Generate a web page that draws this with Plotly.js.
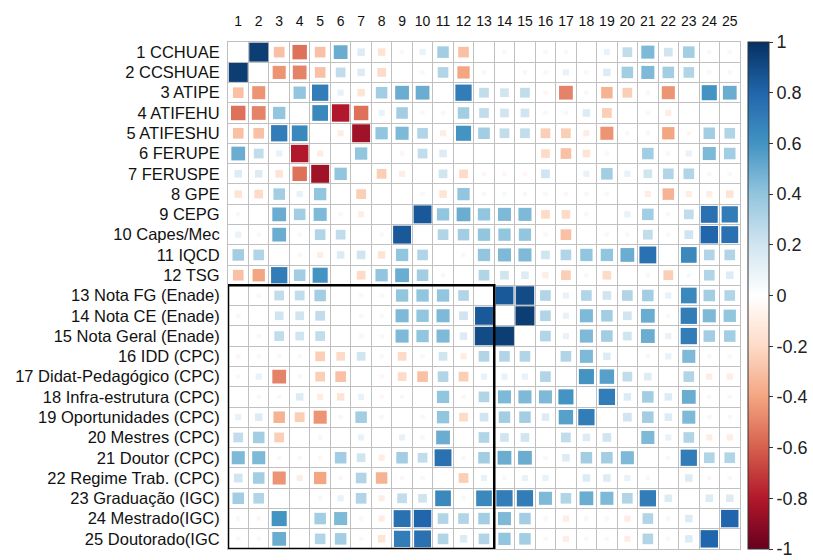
<!DOCTYPE html>
<html>
<head>
<meta charset="utf-8">
<script src="https://cdn.plot.ly/plotly-3.0.1.min.js"></script>
<style>html,body{margin:0;padding:0;background:#fff;}#chart{width:813px;height:560px;}</style>
</head>
<body>
<div id="chart"></div>
<script>
// Variable names (rows/columns of the correlation matrix)
const varLabels = [
  "1 CCHUAE", "2 CCSHUAE", "3 ATIPE", "4 ATIFEHU", "5 ATIFESHU", "6 FERUPE",
  "7 FERUSPE", "8 GPE", "9 CEPG", "10 Capes/Mec", "11 IQCD", "12 TSG",
  "13 Nota FG (Enade)", "14 Nota CE (Enade)", "15 Nota Geral (Enade)",
  "16 IDD (CPC)", "17 Didat-Pedagógico (CPC)", "18 Infra-estrutura (CPC)",
  "19 Oportunidades (CPC)", "20 Mestres (CPC)", "21 Doutor (CPC)",
  "22 Regime Trab. (CPC)", "23 Graduação (IGC)", "24 Mestrado(IGC)", "25 Doutorado(IGC"
];
const colLabels = ["1","2","3","4","5","6","7","8","9","10","11","12","13","14","15","16","17","18","19","20","21","22","23","24","25"];

// Upper triangle: correlations of variable i with variables i+1..25
const u1  = [0.95, -0.3, -0.55, -0.3, 0.5, 0.15, -0.15, 0.05, 0.1, 0.35, -0.3, 0, 0.05, 0, -0.05, 0.05, 0, 0.1, 0.25, 0.45, 0.2, 0.35, 0.05, 0.05];
const u2  = [-0.45, -0.5, -0.3, 0.25, 0.15, -0.2, 0, 0.05, 0.3, -0.4, 0.05, 0, 0.05, 0.05, 0.1, 0.05, 0.15, 0.35, 0.45, 0.35, 0.3, -0.05, 0.05];
const u3  = [0.4, 0.7, 0.1, -0.15, 0.35, 0.5, 0.5, 0, 0.7, 0.25, 0.2, 0.25, -0.05, -0.5, -0.05, -0.35, -0.25, 0.05, -0.45, 0, 0.6, 0.5];
const u4  = [0.65, -0.8, -0.55, 0.1, 0.35, -0.05, -0.05, 0.35, 0.25, 0.2, 0.2, 0.05, 0.05, 0.15, -0.25, 0, -0.05, -0.1, 0, 0, 0];
const u5  = [-0.1, -0.85, 0.4, 0.45, 0.3, -0.1, 0.6, 0.35, 0.25, 0.25, -0.25, -0.25, -0.1, -0.45, -0.05, -0.05, -0.4, -0.05, 0.35, 0.3];
const u6  = [0.4, 0, -0.05, 0.25, 0.15, 0, 0, 0, 0, -0.2, -0.3, -0.15, -0.05, 0, 0.35, -0.05, 0.1, 0.45, 0.35];
const u7  = [-0.25, -0.1, 0, 0.2, -0.2, -0.05, -0.05, -0.05, 0.2, 0, 0.1, 0.35, 0.1, 0.2, 0.3, 0.3, 0.05, 0.05];
const u8  = [0, 0.05, -0.15, 0.4, 0.05, 0.05, 0.05, 0.05, -0.05, -0.05, -0.05, 0, -0.1, -0.35, -0.1, -0.1, -0.15];
const u9  = [0.85, 0.4, 0.5, 0.4, 0.45, 0.45, -0.2, -0.2, 0.05, 0, 0.1, 0.35, -0.05, 0.25, 0.75, 0.7];
const u10 = [0.3, 0.35, 0.4, 0.4, 0.4, 0.05, -0.3, 0, 0.05, 0.05, 0.25, 0.05, 0.2, 0.8, 0.75];
const u11 = [0.05, 0.4, 0.45, 0.45, 0.2, 0.3, 0.4, 0.4, 0.5, 0.75, 0, 0.65, 0.3, 0.3];
const u12 = [0.3, 0.2, 0.15, -0.1, -0.25, -0.05, -0.2, 0, 0.05, -0.25, 0.05, 0.3, 0.15];
const u13 = [0.85, 0.9, 0.3, 0.1, 0.3, 0.2, 0.3, 0.35, 0.1, 0.65, 0.35, 0.3];
const u14 = [0.95, 0.3, 0.1, 0.45, 0.35, 0.2, 0.5, 0.05, 0.7, 0.45, 0.4];
const u15 = [0.3, 0.1, 0.45, 0.35, 0.2, 0.5, 0.1, 0.7, 0.35, 0.35];
const u16 = [0.3, 0.45, 0.15, 0, 0.05, 0.1, 0.45, -0.05, -0.05];
const u17 = [0.6, 0.55, 0.25, 0.15, 0, 0.3, -0.1, -0.1];
const u18 = [0.7, 0.15, 0.35, 0.15, 0.5, 0.05, 0.05];
const u19 = [0.2, 0.35, 0.15, 0.45, 0.05, 0.05];
const u20 = [0.45, 0.1, 0.3, -0.1, -0.1];
const u21 = [0.05, 0.7, 0.3, 0.3];
const u22 = [0.15, -0.05, 0.05];
const u23 = [0.15, 0.15];
const u24 = [0.8];

// Highlighted block (corrRect): variables 13-25 vs 1-13
const rectRowsRange = [13, 25];
const rectColsRange = [1, 13];

const colorbarTicks = [-1, -0.8, -0.6, -0.4, -0.2, 0, 0.2, 0.4, 0.6, 0.8, 1];
const colorbarTickText = ["-1", "-0.8", "-0.6", "-0.4", "-0.2", "0", "0.2", "0.4", "0.6", "0.8", "1"];

// ---- build symmetric matrix ----
const upper = [u1,u2,u3,u4,u5,u6,u7,u8,u9,u10,u11,u12,u13,u14,u15,u16,u17,u18,u19,u20,u21,u22,u23,u24];
const n = varLabels.length;
const M = [];
for (let i = 0; i < n; i++) { M.push(new Array(n).fill(0)); M[i][i] = 1; }
upper.forEach((row, i) => row.forEach((v, k) => { const j = i + 1 + k; M[i][j] = v; M[j][i] = v; }));

const W = 813, H = 560;
const margin = {l: 228, r: 73, t: 42, b: 11, autoexpand: false};
const cellPx = Math.min((W - margin.l - margin.r) / n, (H - margin.t - margin.b) / n);

const xs = [], ys = [], vals = [], sizes = [];
for (let i = 0; i < n; i++) {
  for (let j = 0; j < n; j++) {
    if (i === j) continue; // diagonal not shown
    const v = M[i][j];
    xs.push(j + 1); ys.push(i + 1); vals.push(v);
    sizes.push(cellPx * 0.96 * Math.sqrt(Math.abs(v)));
  }
}

const rdbu = [
  [0.0, "#67001F"], [0.1, "#B2182B"], [0.2, "#D6604D"], [0.3, "#F4A582"], [0.4, "#FDDBC7"],
  [0.5, "#FFFFFF"], [0.6, "#D1E5F0"], [0.7, "#92C5DE"], [0.8, "#4393C3"], [0.9, "#2166AC"], [1.0, "#053061"]
];

const idx = Array.from({length: n}, (_, k) => k + 1);
const half = Array.from({length: n + 1}, (_, k) => k + 0.5);
const gridCol = "#c0c0c0";

const trace = {
  type: "scatter", mode: "markers",
  x: xs, y: ys,
  hoverinfo: "skip",
  marker: {
    symbol: "square", size: sizes, color: vals, opacity: 1,
    colorscale: rdbu, cmin: -1, cmax: 1,
    line: {width: 0},
    showscale: true,
    colorbar: {
      thickness: 21, thicknessmode: "pixels",
      len: 1, lenmode: "fraction", y: 0.5, yanchor: "middle", ypad: 0,
      x: 1.0156, xanchor: "left", xpad: 0,
      outlinewidth: 1, outlinecolor: "#333",
      tickmode: "array", tickvals: colorbarTicks, ticktext: colorbarTickText,
      ticks: "outside", ticklen: 4, tickwidth: 1, tickcolor: "#333",
      ticklabeloverflow: "allow",
      tickfont: {family: "Liberation Sans, Arial, sans-serif", size: 18, color: "#222"}
    }
  }
};

const layout = {
  width: W, height: H, margin: margin,
  paper_bgcolor: "#fff", plot_bgcolor: "#fff",
  showlegend: false,
  font: {family: "Liberation Sans, Arial, sans-serif", color: "#111"},
  xaxis: {
    side: "top", range: [0.5, n + 0.5], fixedrange: true, automargin: false,
    tickmode: "array", tickvals: idx, ticktext: colLabels,
    tickfont: {size: 14, color: "#111"}, ticks: "", ticklabelstandoff: 9,
    showgrid: false, zeroline: false,
    showline: true, mirror: true, linecolor: gridCol, linewidth: 1,
    minor: {tickmode: "array", tickvals: half, showgrid: true, gridcolor: gridCol, gridwidth: 1, ticks: ""}
  },
  yaxis: {
    range: [n + 0.5, 0.5], fixedrange: true, automargin: false,
    tickmode: "array", tickvals: idx, ticktext: varLabels,
    tickfont: {size: 16.5, color: "#111"}, ticks: "", ticklabelstandoff: 4,
    showgrid: false, zeroline: false,
    showline: true, mirror: true, linecolor: gridCol, linewidth: 1,
    minor: {tickmode: "array", tickvals: half, showgrid: true, gridcolor: gridCol, gridwidth: 1, ticks: ""}
  },
  shapes: [{
    type: "rect", xref: "x", yref: "y",
    x0: rectColsRange[0] - 0.5, x1: rectColsRange[1] + 0.5,
    y0: rectRowsRange[0] - 0.5, y1: rectRowsRange[1] + 0.5,
    line: {color: "#000", width: 2.5}, fillcolor: "rgba(0,0,0,0)", layer: "above"
  }]
};

Plotly.newPlot("chart", [trace], layout, {displayModeBar: false, staticPlot: true});
</script>
</body>
</html>
